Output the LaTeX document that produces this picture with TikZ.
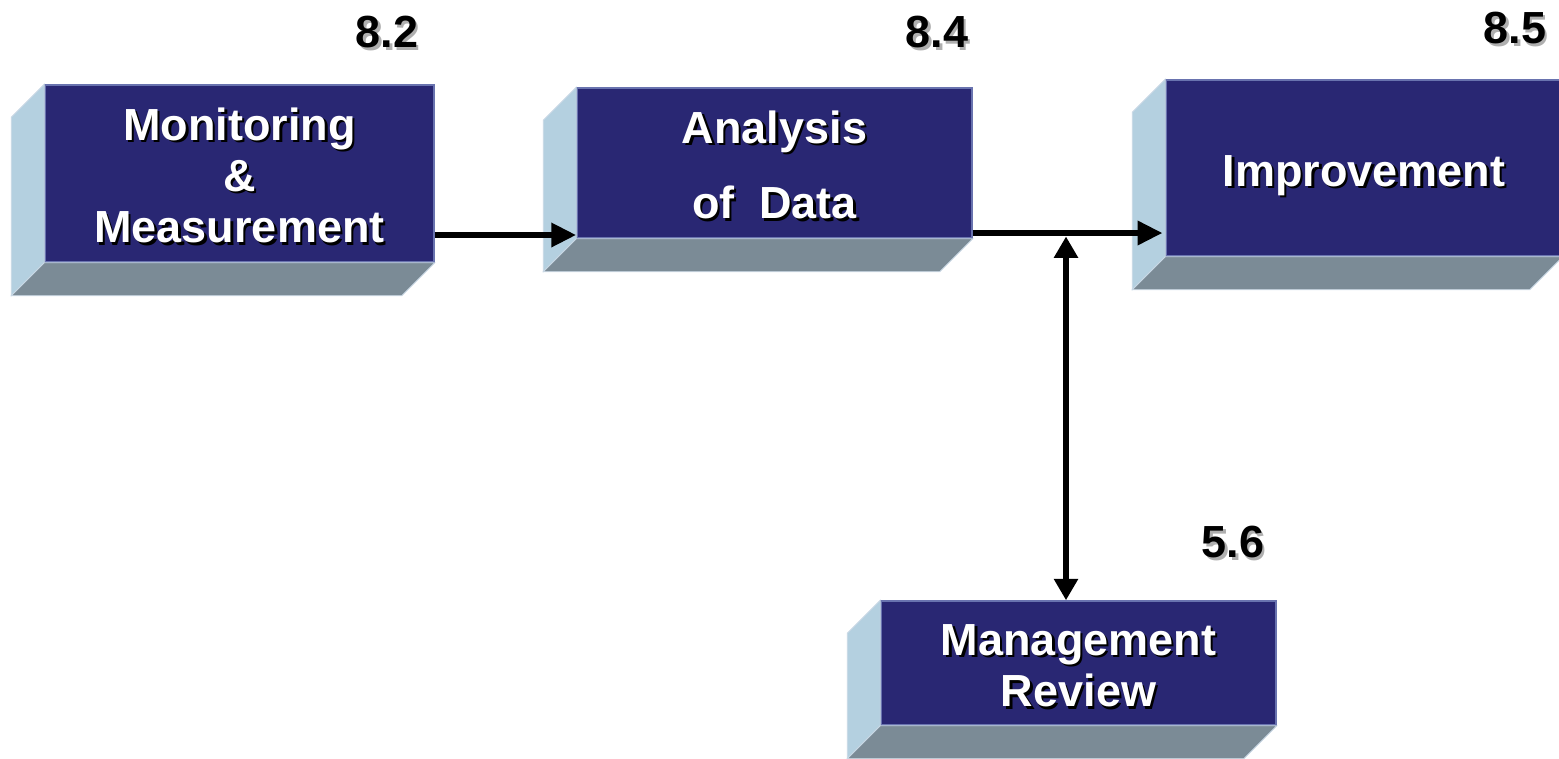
\documentclass[tikz,border=0pt]{standalone}
\usepackage{fontspec}
\setmainfont{Liberation Sans}
\usetikzlibrary{arrows.meta}
\definecolor{frontc}{RGB}{41,39,115}
\definecolor{frontedge}{RGB}{105,115,175}
\definecolor{sidec}{RGB}{180,208,224}
\definecolor{bottomc}{RGB}{123,139,150}
\definecolor{faceedge}{RGB}{200,215,228}
\definecolor{numshadow}{RGB}{175,175,175}
\newcommand\shtxt[2]{\leavevmode\rlap{\kern1.8pt\raisebox{-1.8pt}{\color{#1}\begin{tabular}{@{}c@{}}#2\end{tabular}}}\begin{tabular}{@{}c@{}}#2\end{tabular}}
\newcommand\lowered[1]{\raisebox{-6.8pt}[\height][\depth]{#1}}
\tikzset{
  front/.style={rectangle, fill=frontc, draw=frontedge, line width=1.1pt, inner sep=0pt,
    text=white, align=center, font=\fontsize{33.75}{38.3}\selectfont\bfseries},
  sideface/.style={fill=sidec, draw=faceedge, line width=0.6pt},
  bottomface/.style={fill=bottomc, draw=faceedge, line width=0.6pt},
  numlabel/.style={anchor=base, inner sep=0pt, font=\fontsize{33.75}{38.3}\selectfont\bfseries},
  arr/.style={line width=5.2pt, -{Triangle[length=18.75pt, width=17.25pt]}},
  darr/.style={line width=5.2pt, {Triangle[length=16pt, width=17.25pt]}-{Triangle[length=16pt, width=17.25pt]}}
}
\begin{document}
\begin{tikzpicture}[x=0.75pt, y=-0.75pt]
\useasboundingbox (0,0) rectangle (1559,758);
% boxes (front faces)
\node[front, minimum width=291.75pt, minimum height=132.75pt] (b1) at (239.5,173.5)
  {\lowered{\shtxt{black}{Monitoring\\ \&\\ Measurement}}};
\node[front, minimum width=296.25pt, minimum height=112.5pt] (b2) at (774.5,163)
  {\lowered{\shtxt{black}{Analysis\\[18pt] of\ \ Data}}};
\node[front, minimum width=297pt, minimum height=132pt] (b3) at (1364,168)
  {\lowered{\shtxt{black}{Improvement}}};
\node[front, minimum width=296.25pt, minimum height=93pt] (b4) at (1078.5,663)
  {\lowered{\shtxt{black}{Management\\ Review}}};
% side and bottom faces
\foreach \b in {b1,b2,b3,b4}{
  \filldraw[sideface] (\b.north west) -- (\b.south west) -- ([shift={(-33,33)}]\b.south west)
     -- ([shift={(-33,33)}]\b.north west) -- cycle;
  \filldraw[bottomface] (\b.south west) -- (\b.south east) -- ([shift={(-33,33)}]\b.south east)
     -- ([shift={(-33,33)}]\b.south west) -- cycle;
}
% clause numbers
\node[numlabel] (n82) at (387,46) {\shtxt{numshadow}{8.2}};
\node[numlabel] (n84) at (937,46) {\shtxt{numshadow}{8.4}};
\node[numlabel] (n85) at (1515,42) {\shtxt{numshadow}{8.5}};
\node[numlabel] (n56) at (1233,556) {\shtxt{numshadow}{5.6}};
% connectors
\coordinate (j1) at (500,235);
\coordinate (j2) at (1066,233);
\draw[arr] (b1.east |- j1) -- (b2.west |- j1);
\draw[arr, shorten >=2pt] (b2.east |- j2) -- (b3.west |- j2);
\draw[darr, shorten <=2.6pt] (j2) -- (j2 |- b4.north);
\end{tikzpicture}
\end{document}
